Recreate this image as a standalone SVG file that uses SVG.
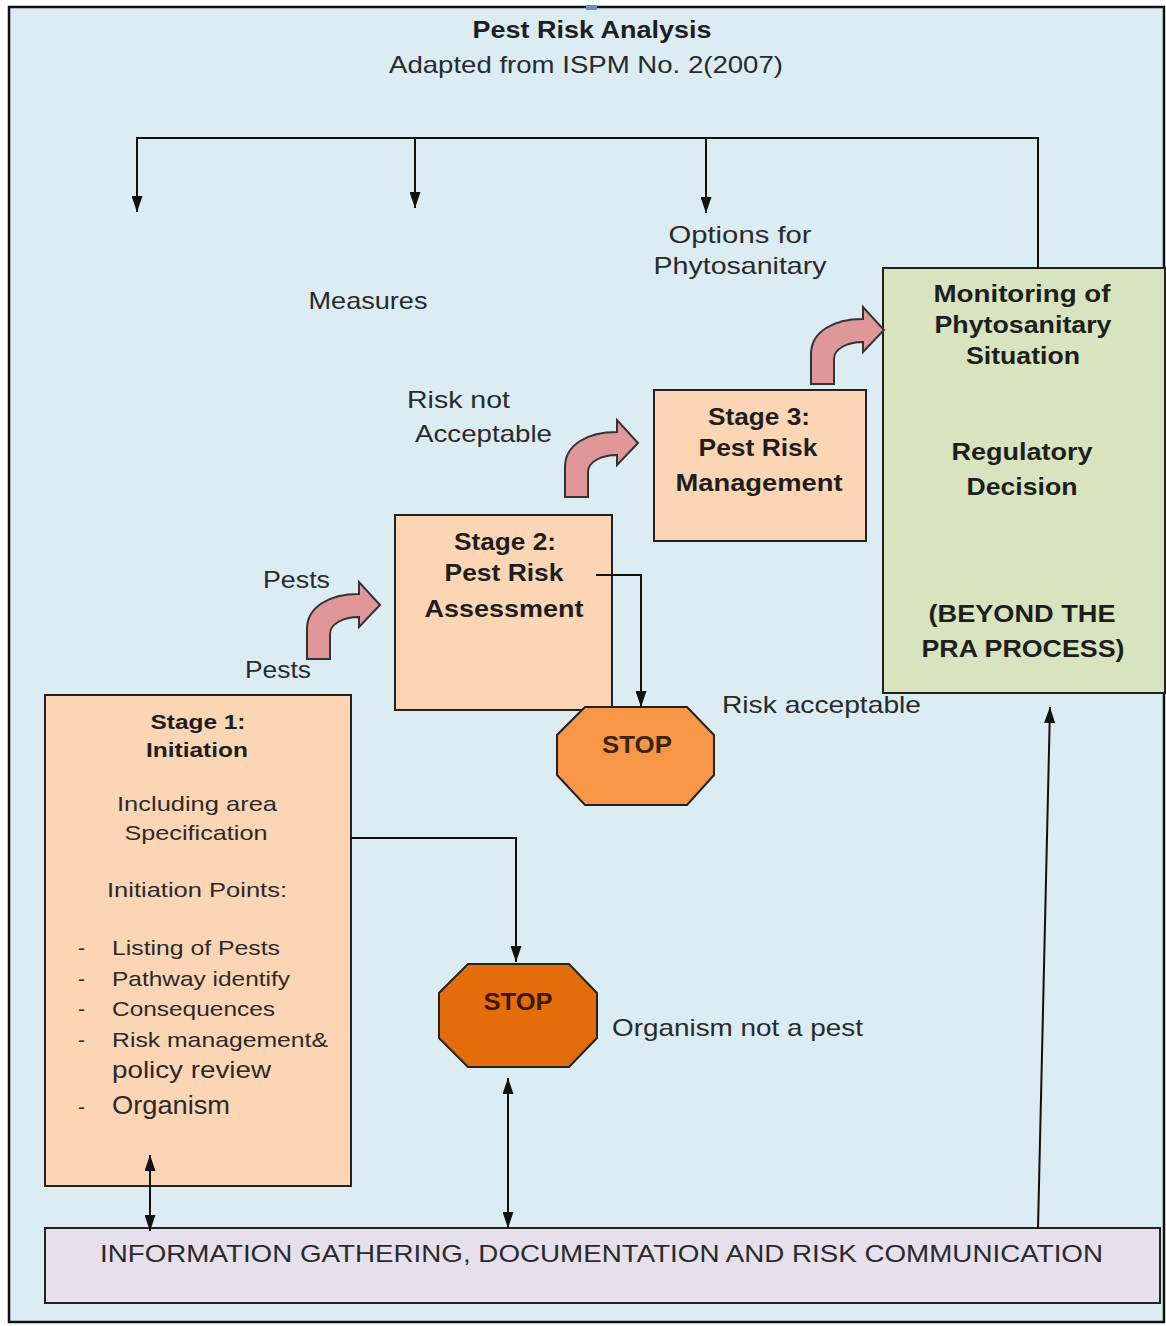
<svg xmlns="http://www.w3.org/2000/svg" width="1166" height="1326" viewBox="0 0 1166 1326">
<defs>
<marker id="ah" viewBox="0 0 16 11" markerWidth="16" markerHeight="11" refX="16" refY="5.5" orient="auto-start-reverse" markerUnits="userSpaceOnUse"><path d="M0,0 L16,5.5 L0,11 Z" fill="#111"/></marker>
<path id="bent" d="M0,0 L0,-30 C0,-52 22,-65 52,-65 L52,-77 L73,-54 L52,-32 L52,-42 C36,-42 23,-35 23,-25 L23,0 Z"/>
</defs>
<style>
text{font-family:"Liberation Sans",Arial,sans-serif;fill:#2a2a2a}
.t{font-size:24px}
.b{font-weight:bold;font-size:24px;fill:#1e1e1e}
.s{font-size:21px}
.sb{font-weight:bold;font-size:21px;fill:#1e1e1e}
.box{fill:#fcd5b5;stroke:#222;stroke-width:2}
.con{fill:none;stroke:#111;stroke-width:2}
.bend{fill:#e0979a;stroke:#333;stroke-width:2}
</style>
<rect x="9" y="7" width="1155" height="1315" fill="#dbecf3" stroke="#111" stroke-width="2.5"/>
<rect x="586" y="5" width="11" height="5" fill="#6d8cc8"/>
<g id="title">
<text class="b" x="592" y="38" text-anchor="middle" textLength="239" lengthAdjust="spacingAndGlyphs">Pest Risk Analysis</text>
<text class="t" x="586" y="73" text-anchor="middle" textLength="394" lengthAdjust="spacingAndGlyphs">Adapted from ISPM  No. 2(2007)</text>
</g>
<g id="labels">
<text class="t" x="740" y="243" text-anchor="middle" textLength="143" lengthAdjust="spacingAndGlyphs">Options for</text>
<text class="t" x="740" y="274" text-anchor="middle" textLength="173" lengthAdjust="spacingAndGlyphs">Phytosanitary</text>
<text class="t" x="368" y="309" text-anchor="middle" textLength="119" lengthAdjust="spacingAndGlyphs">Measures</text>
<text class="t" x="407" y="408" textLength="103" lengthAdjust="spacingAndGlyphs">Risk not</text>
<text class="t" x="415" y="442" textLength="137" lengthAdjust="spacingAndGlyphs">Acceptable</text>
<text class="t" x="263" y="588" textLength="67" lengthAdjust="spacingAndGlyphs">Pests</text>
<text class="t" x="245" y="678" textLength="66" lengthAdjust="spacingAndGlyphs">Pests</text>
<text class="t" x="722" y="713" textLength="199" lengthAdjust="spacingAndGlyphs">Risk acceptable</text>
<text class="t" x="612" y="1036" textLength="251" lengthAdjust="spacingAndGlyphs">Organism not a pest</text>
</g>
<g id="monitoring">
<rect x="883" y="268" width="282" height="425" fill="#d7e4bd" stroke="#222" stroke-width="2"/>
<text class="b" x="1022" y="302" text-anchor="middle" textLength="177" lengthAdjust="spacingAndGlyphs">Monitoring of</text>
<text class="b" x="1023" y="333" text-anchor="middle" textLength="177" lengthAdjust="spacingAndGlyphs">Phytosanitary</text>
<text class="b" x="1023" y="364" text-anchor="middle" textLength="114" lengthAdjust="spacingAndGlyphs">Situation</text>
<text class="b" x="1022" y="460" text-anchor="middle" textLength="141" lengthAdjust="spacingAndGlyphs">Regulatory</text>
<text class="b" x="1022" y="495" text-anchor="middle" textLength="111" lengthAdjust="spacingAndGlyphs">Decision</text>
<text class="b" x="1022" y="622" text-anchor="middle" textLength="187" lengthAdjust="spacingAndGlyphs">(BEYOND THE</text>
<text class="b" x="1023" y="657" text-anchor="middle" textLength="203" lengthAdjust="spacingAndGlyphs">PRA PROCESS)</text>
</g>
<g id="stage3">
<rect class="box" x="654" y="390" width="212" height="151"/>
<text class="b" x="759" y="425" text-anchor="middle" textLength="102" lengthAdjust="spacingAndGlyphs">Stage 3:</text>
<text class="b" x="758" y="456" text-anchor="middle" textLength="119" lengthAdjust="spacingAndGlyphs">Pest Risk</text>
<text class="b" x="759" y="491" text-anchor="middle" textLength="167" lengthAdjust="spacingAndGlyphs">Management</text>
</g>
<g id="stage2">
<rect class="box" x="395" y="515" width="217" height="195"/>
<text class="b" x="505" y="550" text-anchor="middle" textLength="102" lengthAdjust="spacingAndGlyphs">Stage 2:</text>
<text class="b" x="504" y="581" text-anchor="middle" textLength="119" lengthAdjust="spacingAndGlyphs">Pest Risk</text>
<text class="b" x="504" y="617" text-anchor="middle" textLength="159" lengthAdjust="spacingAndGlyphs">Assessment</text>
</g>
<g id="stop1">
<polygon points="585,707 687,707 714,735 714,775 687,805 585,805 557,775 557,735" fill="#f79646" stroke="#222" stroke-width="2"/>
<text class="b" x="637" y="753" text-anchor="middle" textLength="70" lengthAdjust="spacingAndGlyphs" style="fill:#3a2410">STOP</text>
</g>
<g id="stage1">
<rect class="box" x="45" y="695" width="306" height="491"/>
<text class="sb" x="198" y="729" text-anchor="middle" textLength="95" lengthAdjust="spacingAndGlyphs">Stage 1:</text>
<text class="sb" x="197" y="757" text-anchor="middle" textLength="102" lengthAdjust="spacingAndGlyphs">Initiation</text>
<text class="s" x="197" y="811" text-anchor="middle" textLength="160" lengthAdjust="spacingAndGlyphs">Including area</text>
<text class="s" x="196" y="840" text-anchor="middle" textLength="143" lengthAdjust="spacingAndGlyphs">Specification</text>
<text class="s" x="197" y="897" text-anchor="middle" textLength="180" lengthAdjust="spacingAndGlyphs">Initiation Points:</text>
<text class="s" x="78" y="955">-</text>
<text class="s" x="112" y="955" textLength="168" lengthAdjust="spacingAndGlyphs">Listing of Pests</text>
<text class="s" x="78" y="986">-</text>
<text class="s" x="112" y="986" textLength="178" lengthAdjust="spacingAndGlyphs">Pathway identify</text>
<text class="s" x="78" y="1016">-</text>
<text class="s" x="112" y="1016" textLength="163" lengthAdjust="spacingAndGlyphs">Consequences</text>
<text class="s" x="78" y="1047">-</text>
<text class="s" x="112" y="1047" textLength="216" lengthAdjust="spacingAndGlyphs">Risk management&amp;</text>
<text class="t" x="112" y="1078" textLength="159" lengthAdjust="spacingAndGlyphs">policy review</text>
<text class="s" x="78" y="1114">-</text>
<text class="t" x="112" y="1114" textLength="118" lengthAdjust="spacingAndGlyphs" style="font-size:25px">Organism</text>
</g>
<g id="stop2">
<polygon points="468,964 569,964 597,993 597,1038 569,1067 468,1067 439,1038 439,993" fill="#e46c0a" stroke="#222" stroke-width="2"/>
<text class="b" x="518" y="1010" text-anchor="middle" textLength="69" lengthAdjust="spacingAndGlyphs" style="fill:#3a1a08">STOP</text>
</g>
<g id="info">
<rect x="45" y="1228" width="1115" height="75" fill="#e5e0ec" stroke="#222" stroke-width="2"/>
<text class="t" x="100" y="1262" textLength="1003" lengthAdjust="spacingAndGlyphs">INFORMATION GATHERING, DOCUMENTATION AND RISK COMMUNICATION</text>
</g>
<g id="connectors">
<polyline class="con" points="1038,268 1038,138 137,138 137,212" marker-end="url(#ah)"/>
<line class="con" x1="415" y1="138" x2="415" y2="208" marker-end="url(#ah)"/>
<line class="con" x1="706" y1="138" x2="706" y2="213" marker-end="url(#ah)"/>
<polyline class="con" points="596,575 641,575 641,707" marker-end="url(#ah)"/>
<polyline class="con" points="351,838 516,838 516,962" marker-end="url(#ah)"/>
<line class="con" x1="150" y1="1155" x2="150" y2="1231" marker-start="url(#ah)" marker-end="url(#ah)"/>
<line class="con" x1="508" y1="1078" x2="508" y2="1228" marker-start="url(#ah)" marker-end="url(#ah)"/>
<line class="con" x1="1038" y1="1228" x2="1050" y2="707" marker-end="url(#ah)"/>
<use href="#bent" class="bend" transform="translate(307,659)"/>
<use href="#bent" class="bend" transform="translate(565,497)"/>
<use href="#bent" class="bend" transform="translate(811,384)"/>
</g>
</svg>
